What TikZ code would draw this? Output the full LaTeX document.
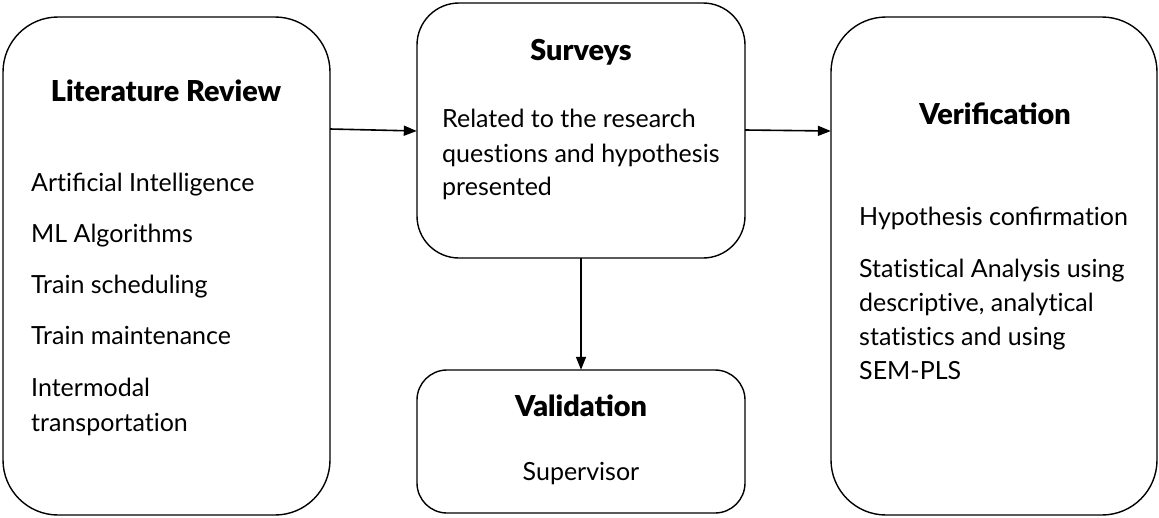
\documentclass[tikz,border=0pt]{standalone}
\usepackage{fontspec}
\setmainfont{Lato}[RawFeature=-liga]
\newfontfamily\headfont{Lato Black}
\usetikzlibrary{arrows.meta}
\begin{document}
\begin{tikzpicture}[x=1pt,y=-1pt,
  panel/.style={draw, line width=1.4pt, rounded corners=#1, inner sep=0pt},
  title/.style={font=\fontsize{28.8}{32}\headfont, anchor=base},
  body/.style={font=\fontsize{25}{34}\selectfont, anchor=base west, inner sep=0pt},
  arr/.style={-{Triangle[length=13pt,width=10pt]}, line width=1.6pt}]
\useasboundingbox (0,0) rectangle (1159,517);

% boxes
\draw[panel=55] (3,17) rectangle (330,515);
\node[minimum width=327pt, minimum height=498pt, inner sep=0pt] (lit) at (166.5,266) {};
\draw[panel=42] (417,3) rectangle (745,258);
\node[minimum width=328pt, minimum height=255pt, inner sep=0pt] (sur) at (581,130.5) {};
\draw[panel=30] (417,370) rectangle (745,513);
\node[minimum width=328pt, minimum height=143pt, inner sep=0pt] (val) at (581,441.5) {};
\draw[panel=55] (831,17) rectangle (1157,515);
\node[minimum width=326pt, minimum height=498pt, inner sep=0pt] (ver) at (994,266) {};

% titles
\node[title] (tlit) at (166,101) {Literature Review};
\node[title] (tsur) at (581,60) {Surveys};
\node[title] (tval) at (581,416) {Validation};
\node[title] (tver) at (995,124) {Verification};

% literature items
\node[body] (l1) at (31,191) {Artiﬁcial Intelligence};
\node[body] (l2) at (31,242) {ML Algorithms};
\node[body] (l3) at (31,293) {Train scheduling};
\node[body] (l4) at (31,344) {Train maintenance};
\node[body] (l5) at (31,396) {Intermodal};
\node[body] (l6) at (31,431) {transportation};

% survey text
\node[body] (s1) at (442,127) {Related to the research};
\node[body] (s2) at (442,162) {questions and hypothesis};
\node[body] (s3) at (442,195) {presented};

% validation text
\node[body, anchor=base] (v1) at (581,480) {Supervisor};

% verification text
\node[body] (r1) at (859,225) {Hypothesis conﬁrmation};
\node[body] (r2) at (859,277) {Statistical Analysis using};
\node[body] (r3) at (859,311) {descriptive, analytical};
\node[body] (r4) at (859,345) {statistics and using};
\node[body] (r5) at (859,379) {SEM-PLS};

% connectors
\coordinate (a1) at (330,129);
\coordinate (a2) at (417,131);
\coordinate (b1) at (745,130);
\coordinate (b2) at (831,131);
\draw[arr] (lit.east |- a1) -- (sur.west |- a2);
\draw[arr] (sur.east |- b1) -- (ver.west |- b2);
\draw[arr] (sur.south) -- (val.north);
\end{tikzpicture}
\end{document}
